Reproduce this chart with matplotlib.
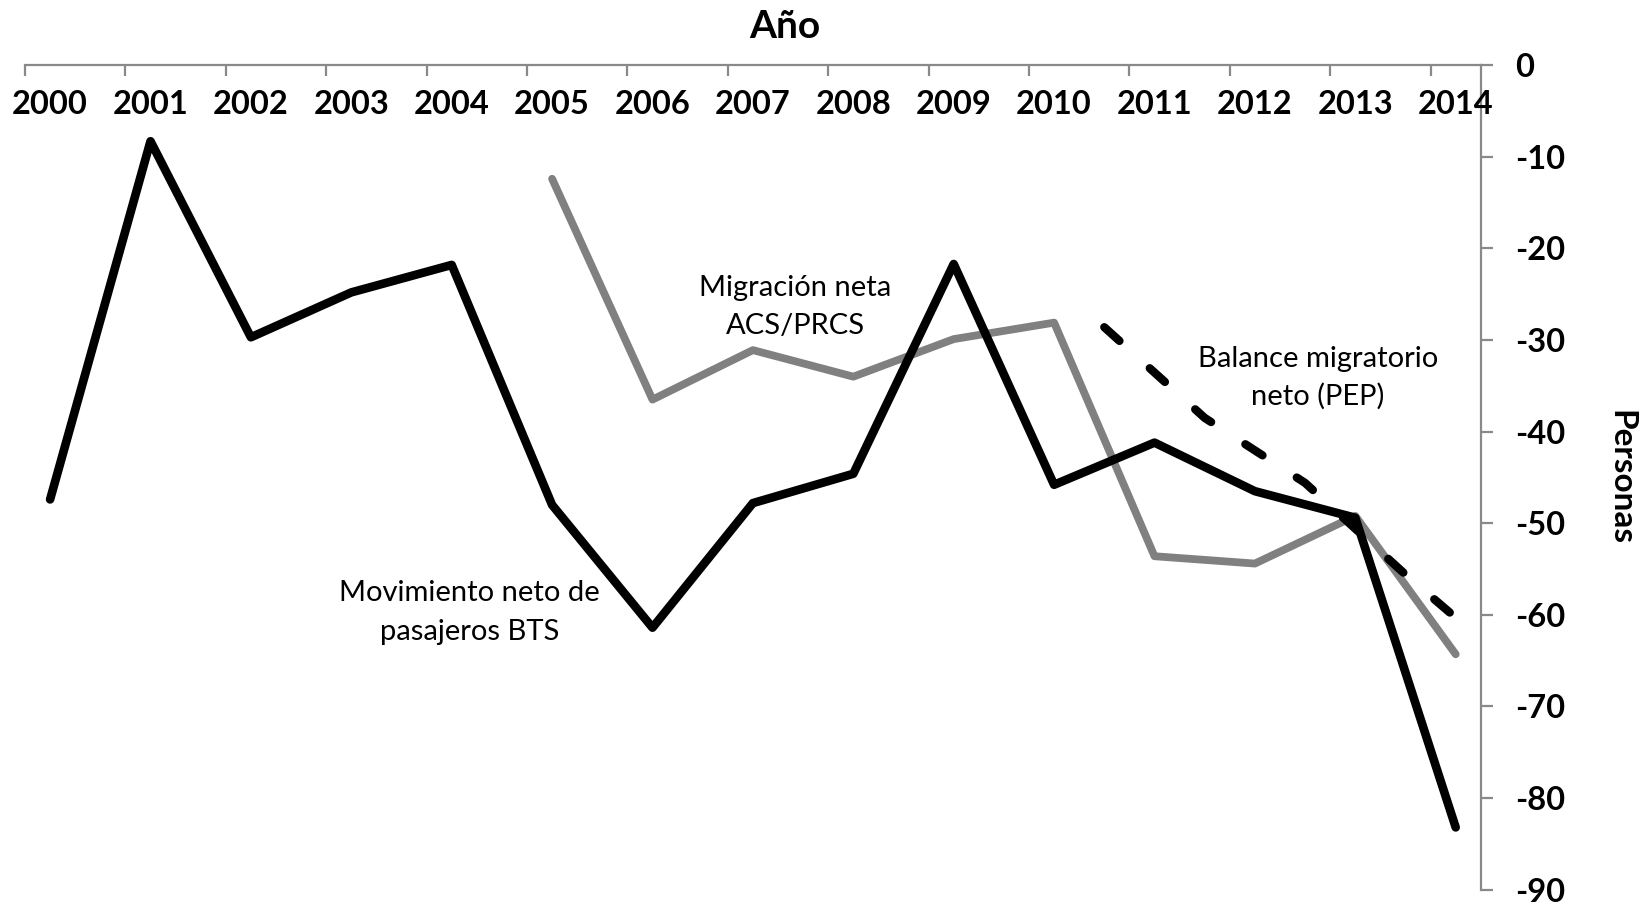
import matplotlib
matplotlib.use('Agg')
import matplotlib.pyplot as plt
import matplotlib.transforms as mtransforms

plt.rcParams['font.family'] = ['Lato', 'DejaVu Sans']
plt.rcParams['axes.unicode_minus'] = False

# ---- data ----
years = list(range(2000, 2015))
bts_values = [-47.4, -8.3, -29.7, -24.8, -21.8, -48.0, -61.4, -47.8, -44.6, -21.7,
              -45.8, -41.2, -46.5, -49.4, -83.2]
acs_years = list(range(2005, 2015))
acs_values = [-12.4, -36.5, -31.1, -34.0, -29.9, -28.1, -53.6, -54.4, -49.2, -64.3]
pep_years = [2010.5, 2011.5, 2012.5, 2013.5, 2014.0]
pep_values = [-28.6, -38.5, -45.6, -55.6, -60.3]
y_ticks = [0, -10, -20, -30, -40, -50, -60, -70, -80, -90]
x_title = 'Año'
y_title = 'Personas'
label_acs = ['Migración neta', 'ACS/PRCS']
label_pep = ['Balance migratorio', 'neto (PEP)']
label_bts = ['Movimiento neto de', 'pasajeros BTS']

AXIS_COLOR = '#898989'
GRAY = '#808080'

fig = plt.figure(figsize=(16.49, 9.05), dpi=100)
ax = fig.add_axes([0.01516, 0.01691, 0.88284, 0.91105])

ax.plot(acs_years, acs_values, color=GRAY, lw=5.6,
        solid_capstyle='round', solid_joinstyle='round', zorder=2)
ax.plot(years, bts_values, color='black', lw=6.2,
        solid_capstyle='round', solid_joinstyle='round', zorder=3)
ax.plot(pep_years, pep_values, color='black', lw=6.0, linestyle=(0, (2.45, 4.9)),
        dash_capstyle='round', dash_joinstyle='round', zorder=4)

ax.set_xlim(years[0] - 0.25, years[-1] + 0.25)
ax.set_ylim(-90, 0)

for side in ['left', 'bottom']:
    ax.spines[side].set_visible(False)
for side in ['top', 'right']:
    ax.spines[side].set_color(AXIS_COLOR)
    ax.spines[side].set_linewidth(1.6)

# x axis on top, tick marks between categories, labels at categories
ax.set_xticks([y - 0.25 for y in years])
ax.tick_params(axis='x', which='major', top=True, bottom=False, labeltop=False,
               labelbottom=False, direction='in', length=8, width=1.6, color=AXIS_COLOR)
trans = mtransforms.blended_transform_factory(ax.transData, ax.transAxes)
for y in years:
    ax.text(y, 0.9414, str(y), transform=trans, ha='center', va='baseline',
            fontsize=23.5, fontweight='bold', color='black')

# y axis on right
ax.yaxis.tick_right()
ax.set_yticks(y_ticks)
ax.set_yticklabels([str(v) for v in y_ticks])
ax.tick_params(axis='y', direction='out', length=8.5, width=1.6, color=AXIS_COLOR,
               pad=16, labelsize=23.5, labelcolor='black')
for lab in ax.get_yticklabels():
    lab.set_fontweight('bold')

fig.text(0.47586, 0.95834, x_title, ha='center', va='baseline',
         fontsize=28, fontweight='bold')
fig.text(0.98302, 0.4718, y_title, rotation=270, ha='center', va='center',
         fontsize=24, fontweight='bold')

# series annotations
ann_fs = 21
ax.text(2007.42, -25.17, label_acs[0], ha='center', va='baseline', fontsize=ann_fs)
ax.text(2007.42, -29.32, label_acs[1], ha='center', va='baseline', fontsize=ann_fs)
ax.text(2012.63, -32.89, label_pep[0], ha='center', va='baseline', fontsize=ann_fs)
ax.text(2012.63, -37.07, label_pep[1], ha='center', va='baseline', fontsize=ann_fs)
ax.text(2004.18, -58.52, label_bts[0], ha='center', va='baseline', fontsize=ann_fs)
ax.text(2004.18, -62.70, label_bts[1], ha='center', va='baseline', fontsize=ann_fs)

fig.savefig('out.png', dpi=100, facecolor='white')
